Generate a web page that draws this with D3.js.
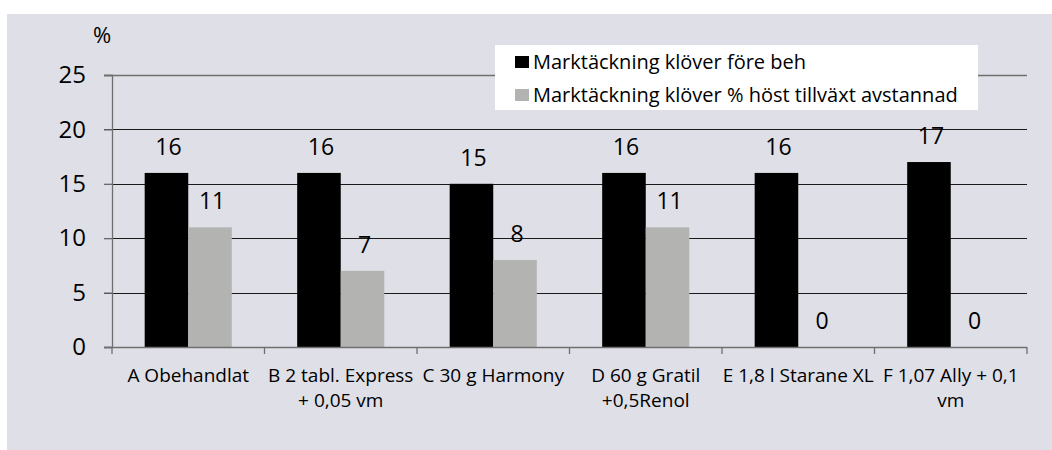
<!DOCTYPE html>
<html>
<head>
<meta charset="utf-8">
<script src="https://cdn.jsdelivr.net/npm/d3@7"></script>
<style>
  body { margin: 0; background: #fff; }
  svg text { font-family: "Open Sans", "Noto Sans", sans-serif; fill: #000; }
</style>
</head>
<body>
<div id="chart"></div>
<script>
// chart data
const categories = [
    "A Obehandlat",
    "B 2 tabl. Express\n+ 0,05 vm",
    "C 30 g Harmony",
    "D 60 g Gratil\n+0,5Renol",
    "E 1,8 l Starane XL",
    "F 1,07 Ally + 0,1\nvm"
];
const seriesNames = ["Marktäckning klöver före beh", "Marktäckning klöver % höst tillväxt avstannad"];
const beforeValues = [16, 16, 15, 16, 16, 17];
const autumnValues = [11, 7, 8, 11, 0, 0];
const yTicks = [0, 5, 10, 15, 20, 25];
const colors = ["#000000", "#b3b4b2"];

const width = 1052, height = 450;
const margin = { top: 75, right: 25, bottom: 103, left: 112 };

const svg = d3.select("#chart").append("svg")
    .attr("width", width)
    .attr("height", height);

// gray panel behind everything
svg.append("rect")
    .attr("x", 7).attr("y", 14)
    .attr("width", width - 7).attr("height", height - 14)
    .attr("fill", "#dfdfe7");

const x = d3.scaleBand()
    .domain(categories)
    .range([margin.left, width - margin.right])
    .paddingInner(0).paddingOuter(0);

const xSub = d3.scaleBand()
    .domain([0, 1])
    .range([0, x.bandwidth()])
    .paddingInner(0).paddingOuter(0.75);

const y = d3.scaleLinear()
    .domain([0, 25])
    .range([height - margin.bottom, margin.top]);

// gridlines
svg.append("g")
    .selectAll("line")
    .data(yTicks.filter(d => d > 0))
    .enter()
    .append("line")
    .attr("x1", margin.left - 8)
    .attr("x2", width - margin.right)
    .attr("y1", d => Math.round(y(d)) + 0.5)
    .attr("y2", d => Math.round(y(d)) + 0.5)
    .attr("stroke", d => d === 25 ? "#6f6f6f" : "#1a1a1a")
    .attr("stroke-width", d => d === 25 ? 1.3 : 1);

// y axis
const yAxis = svg.append("g")
    .attr("transform", `translate(${margin.left},0)`)
    .call(d3.axisLeft(y).tickValues(yTicks).tickSize(8).tickPadding(18));
yAxis.select(".domain").attr("stroke", "#6f6f6f").attr("stroke-width", 1.3);
yAxis.selectAll(".tick line").attr("stroke", "#6f6f6f").attr("stroke-width", 1.3);
yAxis.selectAll(".tick text")
    .attr("font-size", "24px")
    .attr("font-family", "Open Sans")
    .attr("fill", "#000");

svg.append("text")
    .attr("x", 102).attr("y", 43)
    .attr("text-anchor", "middle")
    .attr("font-size", "22px")
    .text("%");

// bars
const groups = svg.append("g")
    .selectAll("g")
    .data(categories.map((c, i) => ({ cat: c, vals: [beforeValues[i], autumnValues[i]] })))
    .enter()
    .append("g")
    .attr("transform", d => `translate(${x(d.cat)},0)`);

groups.selectAll("rect")
    .data(d => d.vals.map((v, k) => ({ k, v })))
    .enter()
    .append("rect")
    .attr("x", d => xSub(d.k))
    .attr("width", xSub.bandwidth())
    .attr("y", d => y(d.v))
    .attr("height", d => y(0) - y(d.v))
    .attr("fill", d => colors[d.k]);

groups.selectAll("text.val")
    .data(d => d.vals.map((v, k) => ({ k, v })))
    .enter()
    .append("text")
    .attr("class", "val")
    .attr("x", d => xSub(d.k) + xSub.bandwidth() / 2 + 2)
    .attr("y", d => y(d.v) - 18)
    .attr("text-anchor", "middle")
    .attr("font-size", "23px")
    .text(d => d.v);

// x axis
const xAxis = svg.append("g")
    .attr("transform", `translate(0,${y(0)})`);
xAxis.append("line")
    .attr("x1", margin.left - 8).attr("x2", width - margin.right)
    .attr("y1", 0.5).attr("y2", 0.5)
    .attr("stroke", "#6f6f6f").attr("stroke-width", 1.3);
xAxis.selectAll("line.tick")
    .data(categories.map(c => x(c)).concat([width - margin.right]))
    .enter()
    .append("line")
    .attr("class", "tick")
    .attr("x1", d => d).attr("x2", d => d)
    .attr("y1", 0).attr("y2", 7)
    .attr("stroke", "#6f6f6f").attr("stroke-width", 1.3);

const labels = xAxis.selectAll("text.cat")
    .data(categories)
    .enter()
    .append("text")
    .attr("class", "cat")
    .attr("x", d => x(d) + x.bandwidth() / 2)
    .attr("y", 35)
    .attr("text-anchor", "middle")
    .attr("font-size", "19px");
labels.selectAll("tspan")
    .data(d => d.split("\n"))
    .enter()
    .append("tspan")
    .attr("x", function() { return d3.select(this.parentNode).attr("x"); })
    .attr("dy", (d, i) => i === 0 ? 0 : 25)
    .text(d => d);

// legend
const legend = svg.append("g");
legend.append("rect")
    .attr("x", 495).attr("y", 45)
    .attr("width", 483).attr("height", 65)
    .attr("fill", "#fff");
seriesNames.forEach((name, i) => {
    legend.append("rect")
        .attr("x", 515).attr("y", 56 + i * 33)
        .attr("width", 14).attr("height", 12)
        .attr("fill", colors[i]);
    legend.append("text")
        .attr("x", 533).attr("y", 69 + i * 33)
        .attr("font-size", "20px")
        .text(name);
});
</script>
</body>
</html>
